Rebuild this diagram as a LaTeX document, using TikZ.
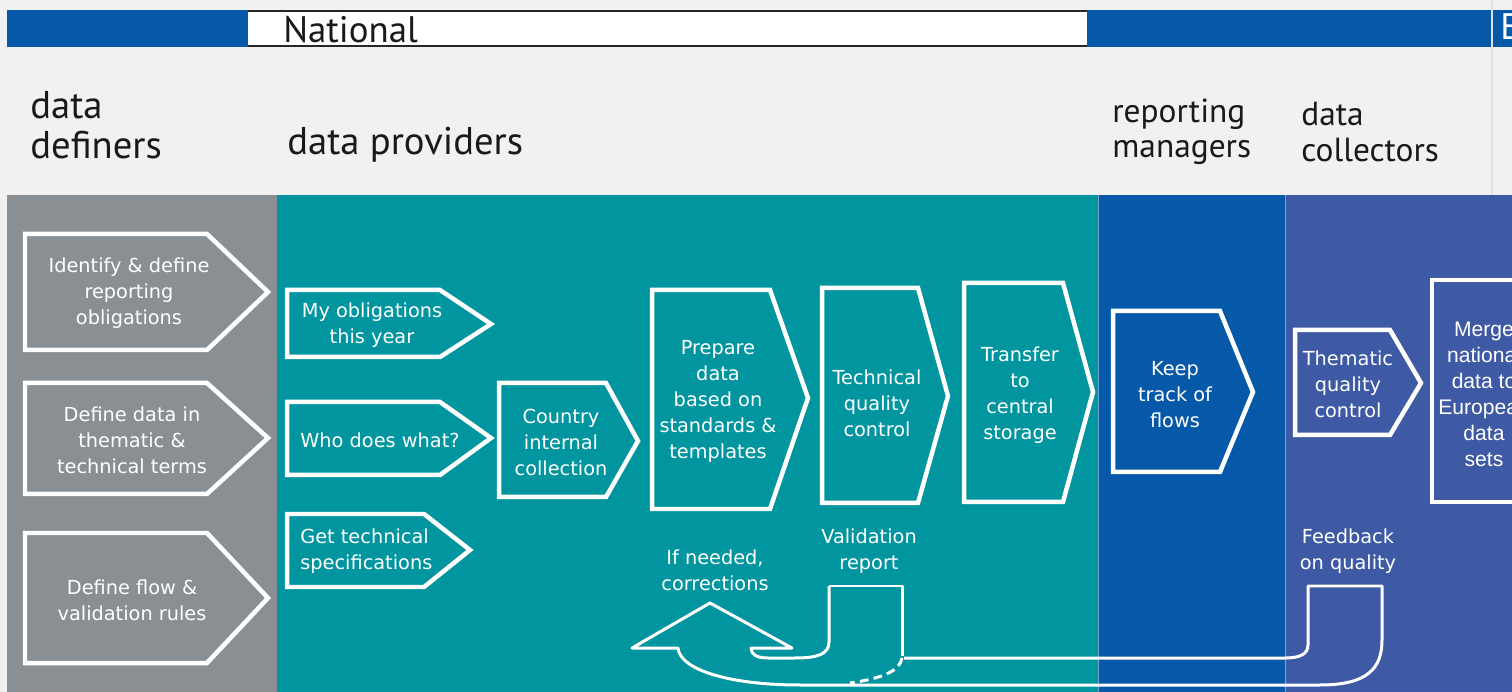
\documentclass[tikz,border=0pt]{standalone}
\usepackage{fontspec}
\setmainfont{DejaVu Sans}
\newfontfamily\headfont{PT Sans}
\newfontfamily\mergefont{Liberation Sans}
\usepackage{tikz}
\usetikzlibrary{positioning, calc}
\definecolor{w_paper}{HTML}{F1F1F1}
\definecolor{w_grey}{HTML}{8A8F94}
\definecolor{w_teal}{HTML}{00959F}
\definecolor{w_blue}{HTML}{0659A9}
\definecolor{w_indigo}{HTML}{3F5AA4}
\tikzstyle{chevron} = [draw=white, line width=0.09cm, line join=miter]
\tikzstyle{boxtext} = [text=white, align=center, inner sep=0pt,
	font=\fontsize{11}{14.8}\selectfont]
\tikzstyle{heading} = [text=black!90, align=left, anchor=west, inner sep=0pt,
	font=\headfont\fontsize{19}{20}\selectfont]
\tikzstyle{feedback} = [draw=white, line width=0.06cm, line join=round]

\begin{document}
\begin{tikzpicture}[x=0.02cm, y=-0.02cm]
	\useasboundingbox (0,0) rectangle (1512,692);
	\clip (0,0) rectangle (1512,692);
	\fill[w_paper] (0,0) rectangle (1512,692);

	\fill[w_blue] (7,10) rectangle (248,47);
	\fill[white] (248,11) rectangle (1087,46);
	\draw[line width=0.04cm, black!85] (248,11) -- (1087,11) (248,46) -- (1087,46);
	\fill[w_blue] (1087,10) rectangle (1512,47);
	\draw[black!12, line width=0.03cm] (1492,0) -- (1492,195);
	\node[heading, font=\headfont\fontsize{21}{22}\selectfont] (national) at (283,30) {National};
	\node[heading, text=white, font=\headfont\fontsize{21}{22}\selectfont] (european) at (1500,30) {European};

	\node[heading, font=\headfont\fontsize{22}{22.5}\selectfont] (definers) at (30,125) {data\\definers};
	\node[heading, font=\headfont\fontsize{22}{22.5}\selectfont] (providers) at (287,145) {data providers};
	\node[heading] (managers) at (1112,132) {reporting\\managers};
	\node[heading] (collectors) at (1301,132) {data\\collectors};

	\fill[w_grey] (7,195) rectangle (277,692);
	\fill[w_teal] (277,195) rectangle (1098,692);
	\fill[w_blue] (1098,195) rectangle (1285,692);
	\fill[w_indigo] (1285,195) rectangle (1512,692);
	\draw[white!45!w_blue, line width=0.02cm] (1098,195) -- (1098,692) (1285,195) -- (1285,692);

	\draw[chevron] (25,234) -- (207,234) -- (268,292) -- (207,350) -- (25,350) -- cycle;
	\node[boxtext] (identify) at (129,293) {Identify \& define\\reporting\\obligations};
	\draw[chevron] (25,383) -- (207,383) -- (268,438) -- (207,494) -- (25,494) -- cycle;
	\node[boxtext] (terms) at (132,440) {Define data in\\thematic \&\\technical terms};
	\draw[chevron] (25,533) -- (207,533) -- (268,598) -- (207,663) -- (25,663) -- cycle;
	\node[boxtext] (rules) at (132,600) {Define flow \&\\validation rules};

	\draw[chevron] (287,290) -- (440,290) -- (491,324) -- (440,357) -- (287,357) -- cycle;
	\node[boxtext] (obligations) at (372,325) {My obligations\\this year};
	\draw[chevron] (287,402) -- (440,402) -- (491,438) -- (440,475) -- (287,475) -- cycle;
	\node[boxtext] (who) at (380,440) {Who does what?};
	\draw[chevron] (287,514) -- (424,514) -- (470,550) -- (424,587) -- (287,587) -- cycle;
	\node[boxtext, align=left, anchor=west] (specs) at (300,551) {Get technical\\specifications};

	\draw[chevron] (499,383) -- (606,383) -- (638,441) -- (606,497) -- (499,497) -- cycle;
	\node[boxtext] (country) at (561,442) {Country\\internal\\collection};
	\draw[chevron] (652,290) -- (770,290) -- (808,398) -- (770,509) -- (652,509) -- cycle;
	\node[boxtext] (prepare) at (718,401) {Prepare\\data\\based on\\standards \&\\templates};
	\draw[chevron] (822,288) -- (918,288) -- (948,396) -- (918,503) -- (822,503) -- cycle;
	\node[boxtext] (technical) at (877,403) {Technical\\quality\\control};
	\draw[chevron] (964,283) -- (1063,283) -- (1093,392) -- (1063,502) -- (964,502) -- cycle;
	\node[boxtext] (transfer) at (1020,395) {Transfer\\to\\central\\storage};

	\draw[chevron] (1113,311) -- (1220,311) -- (1253,392) -- (1220,472) -- (1113,472) -- cycle;
	\node[boxtext] (track) at (1175,395) {Keep\\track of\\flows};
	\draw[chevron] (1295,330) -- (1390,330) -- (1421,383) -- (1390,435) -- (1295,435) -- cycle;
	\node[boxtext] (thematic) at (1348,384) {Thematic\\quality\\control};
	\draw[chevron] (1432,280) rectangle (1580,502);
	\node[boxtext, font=\mergefont\fontsize{12}{14.8}\selectfont] (merge) at (1484,394) {Merge\\national\\data to\\European\\data\\sets};

	\node[boxtext] (corrections) at (715,570) {If needed,\\corrections};
	\node[boxtext] (validation) at (869,551) {Validation\\report};
	\node[boxtext] (quality) at (1348,551) {Feedback\\on quality};

	\draw[feedback] (829,586) -- (902,586) -- (902,656);
	\draw[feedback, dashed, dash pattern=on 5pt off 3pt] (902,658) .. controls (900,670) and (885,678) .. (850,683);
	\draw[feedback] (829,586) -- (829,642) .. controls (829,654) and (818,658) .. (795,658)
		-- (768,658) .. controls (756,658) and (751,654) .. (751,648)
		-- (792,648) -- (710,603) -- (632,648) -- (678,648)
		.. controls (680,670) and (730,685) .. (800,685)
		-- (1320,685) .. controls (1368,685) and (1382,668) .. (1382,640)
		-- (1382,586) -- (1308,586) -- (1308,645)
		.. controls (1308,654) and (1300,658) .. (1285,658) -- (904,658);
\end{tikzpicture}
\end{document}
